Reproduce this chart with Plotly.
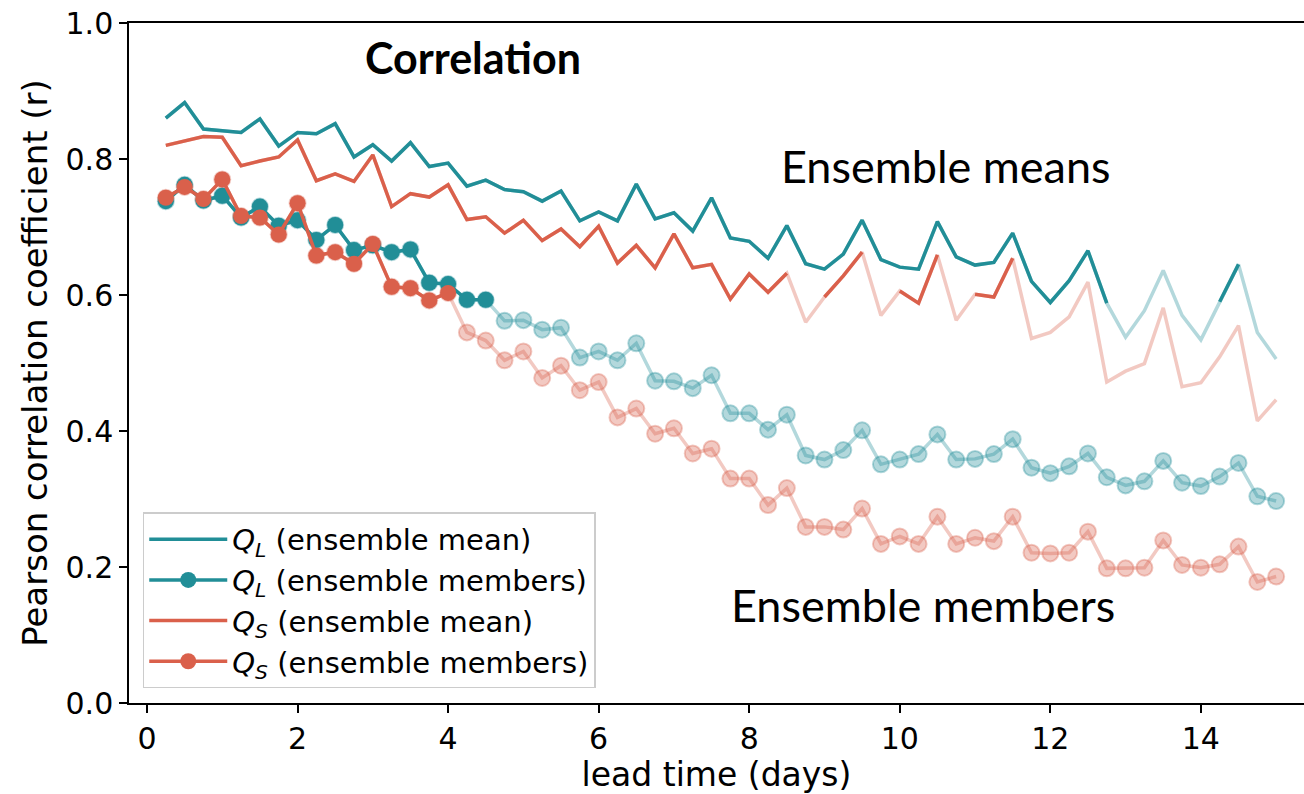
import plotly.graph_objects as go

# ---------------- data ----------------
lead_days = [0.25, 0.5, 0.75, 1.0, 1.25, 1.5, 1.75, 2.0, 2.25, 2.5, 2.75, 3.0,
             3.25, 3.5, 3.75, 4.0, 4.25, 4.5, 4.75, 5.0, 5.25, 5.5, 5.75, 6.0,
             6.25, 6.5, 6.75, 7.0, 7.25, 7.5, 7.75, 8.0, 8.25, 8.5, 8.75, 9.0,
             9.25, 9.5, 9.75, 10.0, 10.25, 10.5, 10.75, 11.0, 11.25, 11.5, 11.75, 12.0,
             12.25, 12.5, 12.75, 13.0, 13.25, 13.5, 13.75, 14.0, 14.25, 14.5, 14.75, 15.0]

ql_mean = [0.860, 0.883, 0.844, 0.842, 0.839, 0.859, 0.819, 0.839, 0.837, 0.852, 0.803, 0.821,
           0.797, 0.824, 0.789, 0.794, 0.760, 0.769, 0.755, 0.752, 0.738, 0.753, 0.709, 0.722,
           0.709, 0.763, 0.712, 0.721, 0.694, 0.743, 0.684, 0.679, 0.654, 0.702, 0.646, 0.638,
           0.660, 0.710, 0.652, 0.641, 0.638, 0.708, 0.656, 0.644, 0.648, 0.691, 0.620, 0.589,
           0.621, 0.665, 0.588, 0.538, 0.577, 0.636, 0.570, 0.534, 0.590, 0.645, 0.545, 0.506]

qs_mean = [0.820, 0.827, 0.833, 0.832, 0.790, 0.797, 0.803, 0.828, 0.768, 0.778, 0.767, 0.806,
           0.730, 0.749, 0.744, 0.762, 0.711, 0.715, 0.691, 0.710, 0.680, 0.697, 0.671, 0.701,
           0.647, 0.673, 0.640, 0.690, 0.640, 0.645, 0.594, 0.631, 0.604, 0.632, 0.560, 0.597,
           0.628, 0.663, 0.570, 0.606, 0.588, 0.659, 0.563, 0.601, 0.597, 0.654, 0.536, 0.545,
           0.568, 0.619, 0.472, 0.488, 0.499, 0.581, 0.465, 0.471, 0.509, 0.555, 0.415, 0.446]

ql_members = [0.738, 0.762, 0.739, 0.746, 0.714, 0.730, 0.702, 0.710, 0.681, 0.703, 0.666, 0.673,
              0.663, 0.667, 0.618, 0.616, 0.593, 0.593, 0.562, 0.563, 0.549, 0.552, 0.508, 0.517,
              0.504, 0.529, 0.474, 0.473, 0.463, 0.482, 0.426, 0.426, 0.402, 0.424, 0.364, 0.358,
              0.372, 0.401, 0.351, 0.358, 0.366, 0.395, 0.358, 0.359, 0.366, 0.388, 0.346, 0.338,
              0.348, 0.367, 0.332, 0.320, 0.326, 0.356, 0.324, 0.319, 0.333, 0.353, 0.304, 0.297]

qs_members = [0.743, 0.759, 0.741, 0.770, 0.716, 0.714, 0.689, 0.735, 0.658, 0.663, 0.646, 0.675,
              0.612, 0.610, 0.592, 0.603, 0.545, 0.533, 0.504, 0.517, 0.478, 0.496, 0.460, 0.472,
              0.420, 0.433, 0.396, 0.404, 0.367, 0.374, 0.330, 0.330, 0.291, 0.316, 0.259, 0.259,
              0.255, 0.286, 0.234, 0.245, 0.234, 0.274, 0.234, 0.243, 0.238, 0.274, 0.221, 0.220,
              0.221, 0.252, 0.198, 0.198, 0.199, 0.239, 0.203, 0.199, 0.204, 0.230, 0.178, 0.186]

# lead-time windows (days) in which each curve is drawn at full strength
ql_mean_sig = [(0.25, 12.75), (14.25, 14.5)]
qs_mean_sig = [(0.25, 8.5), (9.0, 9.5), (10.0, 10.5), (11.0, 11.5)]
ql_members_sig = [(0.25, 4.5)]
qs_members_sig = [(0.25, 4.0)]

x_ticks = [0, 2, 4, 6, 8, 10, 12, 14]
y_ticks = [0.0, 0.2, 0.4, 0.6, 0.8, 1.0]

TEAL = (33, 142, 151)
RED = (218, 96, 75)
FADE = 0.34
LW = 3.5
MS = 16


def rgba(c, a=1.0):
    return f"rgba({c[0]},{c[1]},{c[2]},{a})"


def masked(values, windows):
    out = []
    for d, v in zip(lead_days, values):
        keep = any(lo - 1e-9 <= d <= hi + 1e-9 for lo, hi in windows)
        out.append(v if keep else None)
    return out


fig = go.Figure()

# faded full curves (background)
for vals, col in [(ql_mean, TEAL), (qs_mean, RED)]:
    fig.add_trace(go.Scatter(x=lead_days, y=vals, mode="lines",
                             line=dict(color=rgba(col, FADE), width=LW),
                             showlegend=False, hoverinfo="skip"))
for vals, col in [(ql_members, TEAL), (qs_members, RED)]:
    fig.add_trace(go.Scatter(x=lead_days, y=vals, mode="lines+markers",
                             line=dict(color=rgba(col, FADE), width=LW),
                             marker=dict(size=MS, color=rgba(col, FADE),
                                         line=dict(color=rgba(col, FADE), width=2)),
                             showlegend=False, hoverinfo="skip"))

# solid (significant) parts, also used for the legend
fig.add_trace(go.Scatter(x=lead_days, y=masked(ql_mean, ql_mean_sig), mode="lines",
                         line=dict(color=rgba(TEAL), width=LW), connectgaps=False,
                         name="<i>Q</i><sub><i>L</i></sub> (ensemble mean)"))
fig.add_trace(go.Scatter(x=lead_days, y=masked(ql_members, ql_members_sig), mode="lines+markers",
                         line=dict(color=rgba(TEAL), width=LW),
                         marker=dict(size=MS, color=rgba(TEAL)),
                         name="<i>Q</i><sub><i>L</i></sub> (ensemble members)"))
fig.add_trace(go.Scatter(x=lead_days, y=masked(qs_mean, qs_mean_sig), mode="lines",
                         line=dict(color=rgba(RED), width=LW), connectgaps=False,
                         name="<i>Q</i><sub><i>S</i></sub> (ensemble mean)"))
fig.add_trace(go.Scatter(x=lead_days, y=masked(qs_members, qs_members_sig), mode="lines+markers",
                         line=dict(color=rgba(RED), width=LW),
                         marker=dict(size=MS, color=rgba(RED)),
                         name="<i>Q</i><sub><i>S</i></sub> (ensemble members)"))

TXT = "Lato, Carlito, 'Open Sans', sans-serif"
fig.add_annotation(x=4.33, y=0.950, text="<b>Correlation</b>", showarrow=False,
                   font=dict(family=TXT, size=43, color="black"))
fig.add_annotation(x=10.61, y=0.790, text="Ensemble means", showarrow=False,
                   font=dict(family=TXT, size=45, color="black"))
fig.add_annotation(x=10.31, y=0.1437, text="Ensemble members", showarrow=False,
                   font=dict(family=TXT, size=45, color="black"))

AX = "DejaVu Sans"
fig.update_layout(
    width=1304, height=794,
    margin=dict(l=129, r=0, t=23, b=91),
    plot_bgcolor="white", paper_bgcolor="white",
    font=dict(family=AX, color="black"),
    xaxis=dict(range=[-0.239, 15.37], tickvals=x_ticks, ticks="outside", ticklen=8,
               tickwidth=1.5, tickcolor="black", showline=True, linecolor="black",
               linewidth=1.5, mirror=True, showgrid=False, zeroline=False,
               tickfont=dict(family=AX, size=30),
               title=dict(text="lead time (days)", font=dict(family=AX, size=33), standoff=6)),
    yaxis=dict(range=[0, 1], tickvals=y_ticks, tickformat=".1f", ticks="outside", ticklen=8,
               tickwidth=1.5, tickcolor="black", showline=True, linecolor="black",
               linewidth=1.5, showgrid=False, zeroline=False,
               tickfont=dict(family=AX, size=30),
               title=dict(text="Pearson correlation coefficient (r)",
                          font=dict(family=AX, size=34), standoff=8)),
    legend=dict(x=0.0117, y=0.2804, xanchor="left", yanchor="top",
                bgcolor="white", bordercolor="#cccccc", borderwidth=1.5,
                font=dict(family=AX, size=29), tracegroupgap=0, itemwidth=78),
)

fig.write_html("out.html")
